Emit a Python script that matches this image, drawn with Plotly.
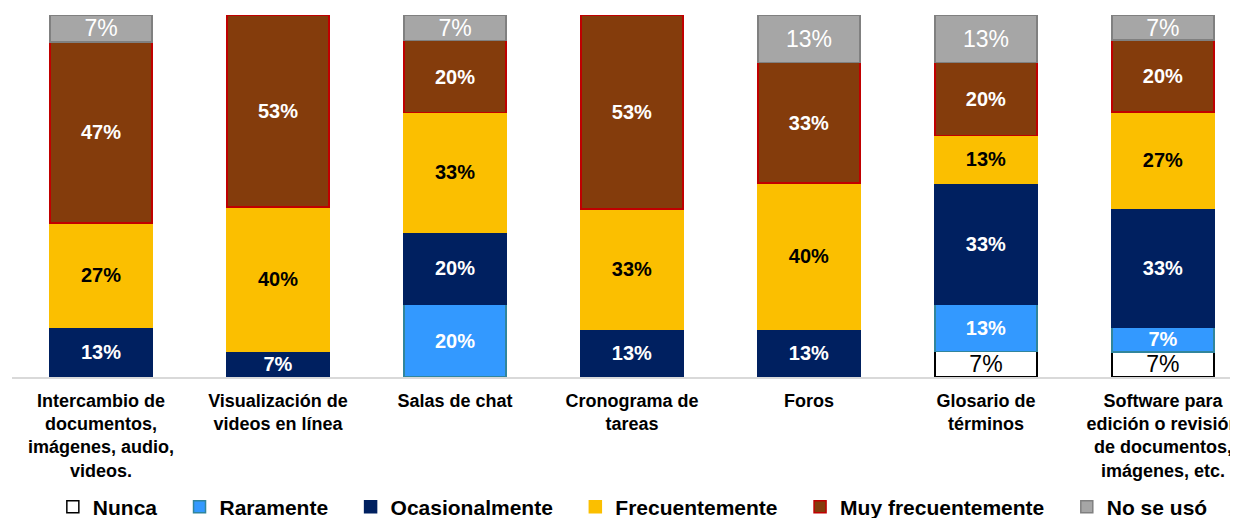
import plotly.graph_objects as go

# ---------------------------
# Data (percent of respondents, as labelled)
# ---------------------------
categorias = [
    "Intercambio de<br>documentos,<br>imágenes, audio,<br>videos.",
    "Visualización de<br>videos en línea",
    "Salas de chat",
    "Cronograma de<br>tareas",
    "Foros",
    "Glosario de<br>términos",
    "Software para<br>edición o revisión<br>de documentos,<br>imágenes, etc.",
]

nunca = [0, 0, 0, 0, 0, 7, 7]
raramente = [0, 0, 20, 0, 0, 13, 7]
ocasionalmente = [13, 7, 20, 13, 13, 33, 33]
frecuentemente = [27, 40, 33, 33, 40, 13, 27]
muy_frecuentemente = [47, 53, 20, 53, 33, 20, 20]
no_se_uso = [7, 0, 7, 0, 13, 13, 7]

# ---------------------------
# Series styles
# ---------------------------
FONT = "Arial, Liberation Sans, sans-serif"
PAD = "\u00a0" * 3  # extra room after each legend entry
series = [
    ("Nunca" + PAD, nunca, "#FFFFFF", "#000000", "#000000", "normal", 23),
    ("Raramente" + PAD, raramente, "#3399FF", "#31859C", "#FFFFFF", "bold", 20),
    ("Ocasionalmente" + PAD, ocasionalmente, "#002060", "#002060", "#FFFFFF", "bold", 20),
    ("Frecuentemente" + PAD, frecuentemente, "#FBBF00", "#FBBF00", "#000000", "bold", 20),
    ("Muy frecuentemente" + PAD, muy_frecuentemente, "#843C0C", "#C00000", "#FFFFFF", "bold", 20),
    ("No se usó", no_se_uso, "#A6A6A6", "#808080", "#FFFFFF", "normal", 23),
]

fig = go.Figure()
for name, vals, fill, edge, tcolor, tweight, tsize in series:
    fig.add_trace(go.Bar(
        x=categorias,
        y=[v if v else None for v in vals],
        name=name,
        text=[f"{v}%" if v else "" for v in vals],
        textposition="inside",
        insidetextanchor="middle",
        textangle=0,
        constraintext="none",
        insidetextfont=dict(family=FONT, size=tsize, color=tcolor, weight=tweight),
        marker=dict(color=fill, line=dict(color=edge, width=1.5)),
        hoverinfo="skip",
    ))

# page body has an 8px margin, so the figure is 8px smaller than the window
fig.update_layout(
    width=1230,
    height=510,
    barmode="stack",
    barnorm="percent",
    bargap=0.424,
    margin=dict(l=4, r=0, t=7, b=141),
    plot_bgcolor="white",
    paper_bgcolor="white",
    font=dict(family=FONT, color="#000000"),
    xaxis=dict(
        range=[-0.503, 6.424],
        showline=True,
        linecolor="#D9D9D9",
        linewidth=2,
        ticks="",
        ticklabelstandoff=6,
        tickfont=dict(size=18, weight="bold", color="#000000"),
        fixedrange=True,
    ),
    yaxis=dict(
        range=[0, 100],
        visible=False,
        showgrid=False,
        fixedrange=True,
    ),
    showlegend=True,
    legend=dict(
        orientation="h",
        xref="container",
        yref="container",
        x=0.508,
        xanchor="center",
        y=0.0216,
        yanchor="middle",
        font=dict(size=21, weight="bold", color="#000000"),
        traceorder="normal",
        itemclick=False,
        itemdoubleclick=False,
    ),
)

fig.write_html("out.html")
